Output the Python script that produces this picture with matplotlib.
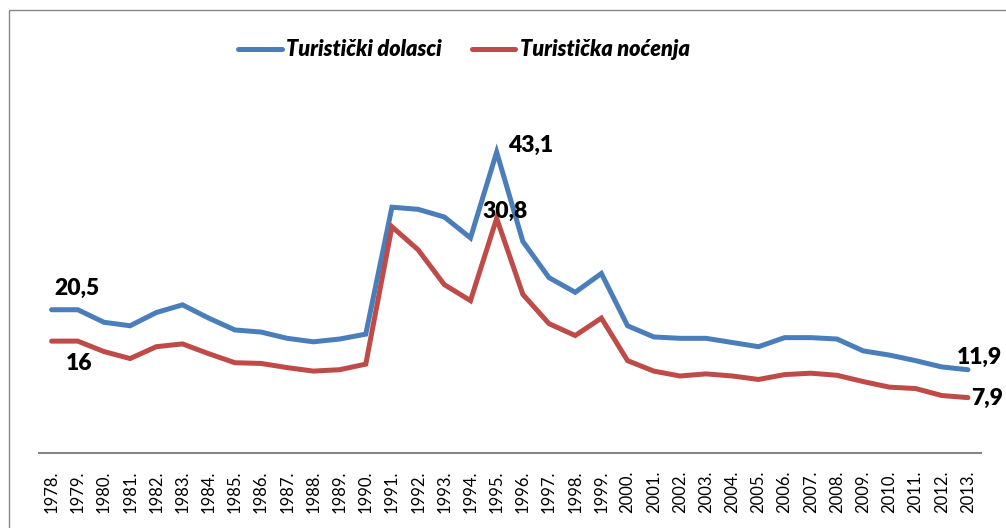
import matplotlib
matplotlib.use("Agg")
import matplotlib.pyplot as plt
from matplotlib.patches import Rectangle

years = [str(y) + "." for y in range(1978, 2014)]
dolasci = [20.5, 20.5, 18.7, 18.2, 20.1, 21.2, 19.3, 17.6, 17.3, 16.4, 15.9, 16.3,
           17.0, 35.2, 34.9, 33.8, 30.8, 43.1, 30.3, 25.1, 23.0, 25.7, 18.2, 16.6,
           16.4, 16.4, 15.8, 15.2, 16.5, 16.5, 16.3, 14.6, 14.0, 13.2, 12.3, 11.9]
nocenja = [16.0, 16.0, 14.5, 13.5, 15.2, 15.6, 14.2, 12.9, 12.8, 12.2, 11.7, 11.9,
           12.7, 32.4, 29.1, 24.1, 21.8, 33.6, 22.7, 18.5, 16.8, 19.3, 13.2, 11.7,
           11.0, 11.3, 11.0, 10.5, 11.2, 11.4, 11.1, 10.2, 9.4, 9.2, 8.2, 7.9]
series_names = ["Turistički dolasci", "Turistička noćenja"]
# (series index, point index, label text)
point_labels = [(0, 0, "20,5"), (1, 0, "16"), (0, 17, "43,1"), (1, 17, "30,8"),
                (0, 35, "11,9"), (1, 35, "7,9")]
label_offsets = [(25, 21), (28, -22), (34, 7), (8, 7), (12, 12), (19, -1)]

colors = ["#4A7EBB", "#BE4B48"]

fig = plt.figure(figsize=(10.06, 5.28), dpi=100)
W, H = 1006, 528
ax = fig.add_axes([38.5 / W, 1 - 452.7 / H, (981 - 38.5) / W, (452.7 - 104) / H])

x = list(range(len(years)))
all_series = [dolasci, nocenja]
lines = []
for s, c, n in zip(all_series, colors, series_names):
    ln, = ax.plot(x, s, color=c, lw=3.6, solid_capstyle="round",
                  solid_joinstyle="miter", label=n)
    lines.append(ln)

ax.set_xlim(-0.5, len(years) - 0.5)
ax.set_ylim(0, 50)
ax.set_xticks(x)
ax.set_xticklabels(years, rotation=90, fontfamily="Lato", fontsize=12,
                   va="top", ha="center")
ax.tick_params(axis="x", length=0, pad=13)
ax.set_yticks([])
for sp in ["top", "right", "left"]:
    ax.spines[sp].set_visible(False)
ax.spines["bottom"].set_color("#868686")
ax.spines["bottom"].set_linewidth(1.5)

for (si, pi, txt), (dx, dy) in zip(point_labels, label_offsets):
    ax.annotate(txt, (x[pi], all_series[si][pi]), xytext=(dx, dy),
                textcoords="offset pixels", ha="center", va="center",
                fontsize=16.5, fontweight="heavy", fontfamily="Lato")

leg = fig.legend(handles=lines, loc="center", bbox_to_anchor=(464 / W, 1 - 50 / H),
                 ncol=2, frameon=False, handlelength=2.0, columnspacing=1.4,
                 handletextpad=0.2,
                 prop={"family": "Lato", "weight": "heavy", "style": "italic", "size": 15.6})

fig.patches.append(Rectangle((9 / W, -0.1), 1.2, 1 - 10 / H + 0.1, transform=fig.transFigure,
                             fill=False, edgecolor="#888888", lw=1.0))

fig.savefig("out.png", dpi=100)
